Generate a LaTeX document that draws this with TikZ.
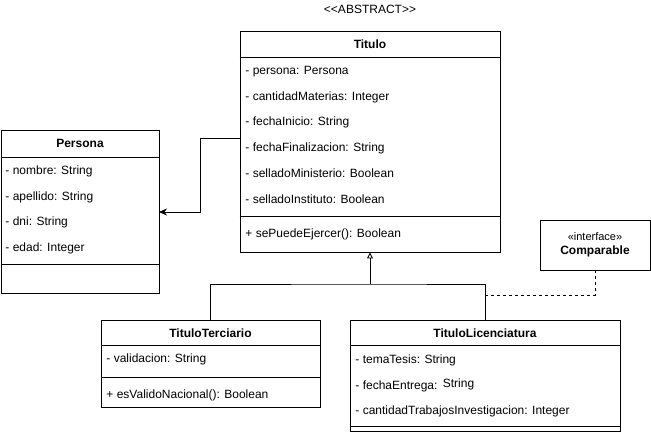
\documentclass[tikz,border=0pt]{standalone}
\usepackage{fontspec}
\setmainfont{Liberation Sans}
\usetikzlibrary{positioning,arrows.meta}

\begin{document}
\begin{tikzpicture}[x=1pt, y=-1pt, line width=0.9pt,
    every node/.style={font=\fontsize{12}{14}\selectfont},
    classbox/.style={draw, rectangle, inner sep=0pt},
    header/.style={font=\fontsize{12}{14}\selectfont\bfseries},
    attr/.style={anchor=base west, inner sep=0pt},
    assoc/.style={-{Stealth[length=8pt, width=7pt, inset=2.5pt]}},
    inherit/.style={-{Triangle[open, length=6pt, width=6pt]}},
    realize/.style={dashed, dash pattern=on 3pt off 3pt}]
    \useasboundingbox (0,0) rectangle (651,433);

    % Titulo (abstract)
    \node (abstract) at (370,9.5) {{<}{<}ABSTRACT{>}{>}};
    \node[classbox, minimum width=260pt, minimum height=221pt] (titulo) at (370,141.5) {};
    \node[header] (tituloH) at (370,44) {Titulo};
    \draw (titulo.west |- 0,57) -- (titulo.east |- 0,57);
    \foreach \t [count=\i] in {- persona: Persona, - cantidadMaterias: Integer,
        - fechaInicio: String, - fechaFinalizacion: String,
        - selladoMinisterio: Boolean, - selladoInstituto: Boolean} {
        \node[attr] (tituloA\i) at (245, 74.3+\i*25.8-25.8) {\t};
    }
    \draw (titulo.west |- 0,216) -- (titulo.east |- 0,216);
    \node[attr] (tituloM1) at (245,237.3) {+ sePuedeEjercer(): Boolean};

    % Persona
    \node[classbox, minimum width=158pt, minimum height=163pt] (persona) at (80,211.5) {};
    \node[header] (personaH) at (80,143.5) {Persona};
    \draw (persona.west |- 0,157) -- (persona.east |- 0,157);
    \foreach \t [count=\i] in {- nombre: String, - apellido: String,
        - dni: String, - edad: Integer} {
        \node[attr] (personaA\i) at (5, 174.3+\i*25.8-25.8) {\t};
    }
    \draw (persona.west |- 0,264) -- (persona.east |- 0,264);

    % Comparable (interface)
    \node[classbox, minimum width=110pt, minimum height=50pt, align=center] (comparable) at (595,245)
        {\fontsize{11}{12}\selectfont\guillemotleft interface\guillemotright\\[0pt]\textbf{Comparable}};

    % TituloTerciario
    \node[classbox, minimum width=219pt, minimum height=87pt] (terciario) at (210.5,363.5) {};
    \node[header] (terciarioH) at (210.5,333) {TituloTerciario};
    \draw (terciario.west |- 0,345) -- (terciario.east |- 0,345);
    \node[attr] (terciarioA1) at (106,362.3) {- validacion: String};
    \draw (terciario.west |- 0,377) -- (terciario.east |- 0,377);
    \node[attr] (terciarioM1) at (106,398.3) {+ esValidoNacional(): Boolean};

    % TituloLicenciatura
    \node[classbox, minimum width=270pt, minimum height=111.5pt] (licenciatura) at (485,375.75) {};
    \node[header] (licenciaturaH) at (485,333) {TituloLicenciatura};
    \draw (licenciatura.west |- 0,345) -- (licenciatura.east |- 0,345);
    \node[attr] (licenciaturaA1) at (355,363.3) {- temaTesis: String};
    \node[attr] (licenciaturaA2) at (355,389.1) {- fechaEntrega:\,\raisebox{1.5pt}{\ String}};
    \node[attr] (licenciaturaA3) at (355,414.9) {- cantidadTrabajosInvestigacion: Integer};
    \draw (licenciatura.west |- 0,426) -- (licenciatura.east |- 0,426);

    % Association Titulo -> Persona
    \coordinate (assocS) at (240,138);
    \coordinate (assocE) at (159,212);
    \draw[assoc] (assocS) -| (200,212) -- (assocE);

    % Inheritance
    \coordinate (inhJ) at (370,284);
    \draw[inherit] (inhJ) -- (titulo.south);
    \draw (terciario.north) |- (inhJ) -| (licenciatura.north);

    % Realization Comparable
    \coordinate (realS) at (485,295);
    \draw[realize] (realS) -| (comparable.south);
\end{tikzpicture}
\end{document}
